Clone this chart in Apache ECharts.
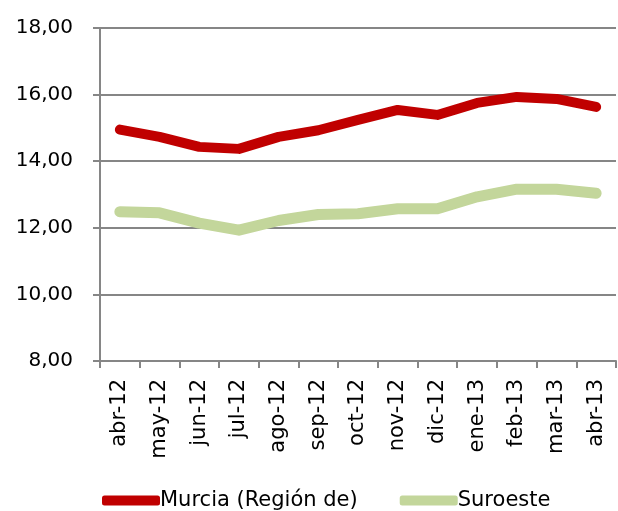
<!DOCTYPE html>
<html>
<head>
<meta charset="utf-8">
<script src="https://cdn.jsdelivr.net/npm/echarts@6/dist/echarts.min.js"></script>
<style>
  html, body { margin: 0; padding: 0; background: #fff; }
  #chart { width: 618px; height: 511px; }
</style>
</head>
<body>
<div id="chart"></div>
<script>
// meses (eje X)
const months = ['abr-12', 'may-12', 'jun-12', 'jul-12', 'ago-12', 'sep-12', 'oct-12',
  'nov-12', 'dic-12', 'ene-13', 'feb-13', 'mar-13', 'abr-13'];
// valores
const murcia = [14.95, 14.73, 14.43, 14.37, 14.73, 14.93, 15.24, 15.54, 15.39, 15.75, 15.93, 15.87, 15.63];
const suroeste = [12.48, 12.45, 12.14, 11.93, 12.22, 12.40, 12.42, 12.57, 12.57, 12.93, 13.16, 13.16, 13.04];
const seriesNames = ['Murcia (Región de)', 'Suroeste'];

const chart = echarts.init(document.getElementById('chart'));
const font = 'DejaVu Sans, Verdana, sans-serif';

const option = {
  animation: false,
  grid: { left: 100, right: 2, top: 28, bottom: 150 },
  legend: {
    left: 97,
    top: 485,
    itemWidth: 58,
    itemHeight: 10,
    itemGap: 42,
    icon: 'roundRect',
    textStyle: { fontFamily: font, fontSize: 21, color: '#000', padding: [0, 0, 0, -5] },
    data: seriesNames
  },
  xAxis: {
    type: 'category',
    data: months,
    boundaryGap: true,
    axisLine: { lineStyle: { color: '#868686', width: 2 } },
    axisTick: { show: true, length: 7, alignWithLabel: false, lineStyle: { color: '#868686', width: 2 } },
    axisLabel: {
      rotate: 90,
      interval: 0,
      margin: 18,
      fontFamily: font,
      fontSize: 21,
      color: '#000'
    }
  },
  yAxis: {
    type: 'value',
    min: 8,
    max: 18,
    interval: 2,
    axisLine: { show: true, lineStyle: { color: '#868686', width: 2 } },
    axisTick: { show: true, length: 7, lineStyle: { color: '#868686', width: 2 } },
    splitLine: { lineStyle: { color: '#868686', width: 2 } },
    axisLabel: {
      margin: 27,
      fontFamily: font,
      fontSize: 20,
      color: '#000',
      formatter: v => v.toFixed(2).replace('.', ',')
    }
  },
  series: [
    {
      name: seriesNames[0],
      type: 'line',
      data: murcia,
      showSymbol: false,
      color: '#C00000',
      lineStyle: { color: '#C00000', width: 10, cap: 'round', join: 'round' }
    },
    {
      name: seriesNames[1],
      type: 'line',
      data: suroeste,
      showSymbol: false,
      color: '#C3D69B',
      lineStyle: { color: '#C3D69B', width: 11, cap: 'round', join: 'round' }
    }
  ]
};

chart.setOption(option);
</script>
</body>
</html>
